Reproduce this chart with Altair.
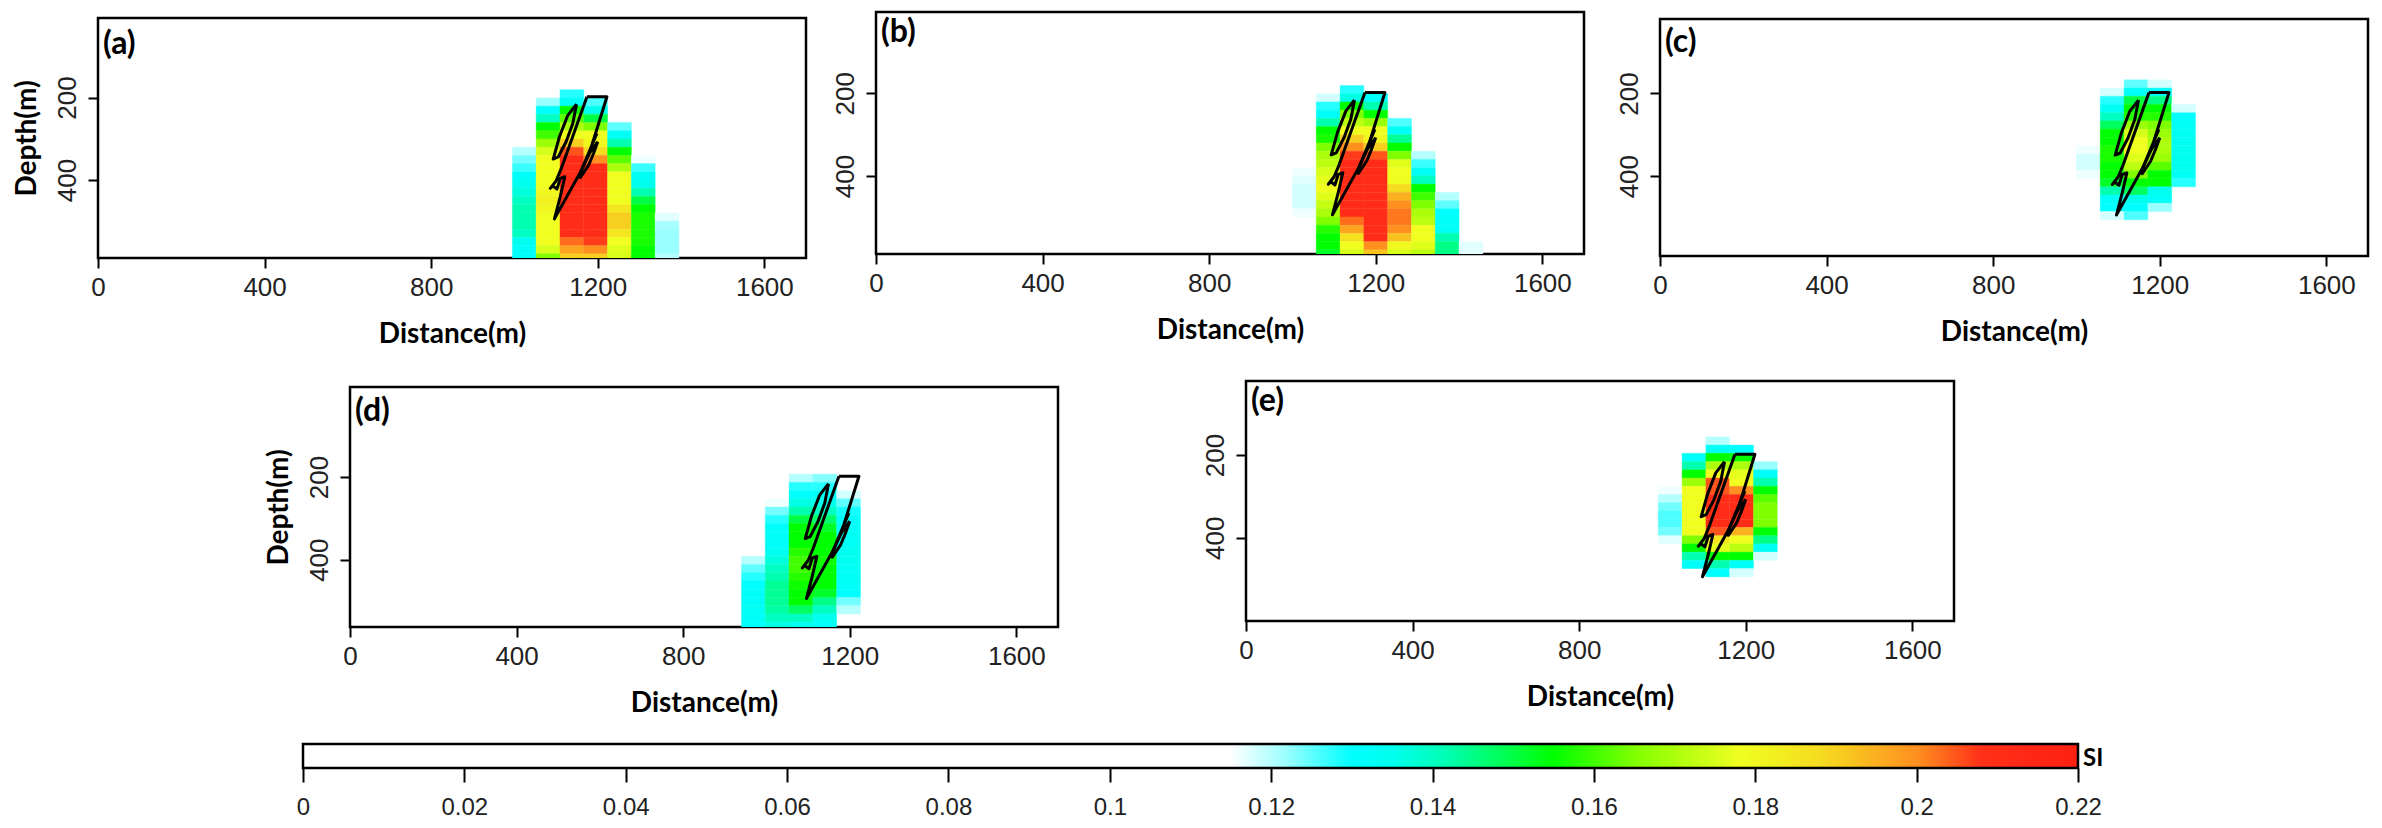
import altair as alt
import pandas as pd

# colour ramp of the SI scale
SI_STOPS = [0, 0.115, 0.122, 0.13, 0.135, 0.142, 0.155, 0.165, 0.178, 0.188, 0.2, 0.208, 0.22]
SI_COLORS = ["#ffffff", "#ffffff", "#99ffff", "#00ffff", "#00ffee", "#00ffb0", "#00ff00", "#80ff00",
             "#f0ff20", "#f5dc20", "#ff9020", "#ff3018", "#ff2010"]
SI_TICKS = [0, 0.02, 0.04, 0.06, 0.08, 0.1, 0.12, 0.14, 0.16, 0.18, 0.2, 0.22]
X_TICKS = [0, 400, 800, 1200, 1600]
Y_TICKS = [200, 400]
CELL_W = 57.14
CELL_H = 19.9

# panel a : columns left to right, values top to bottom, first row index of each
a_col0 = 995
a_row0 = 181
a_first = [7, 1, 0, 1, 4, 8, 15]
a_vals = [
    [.12, .124, .127, .132, .135, .137, .14, .142, .142, .142, .14, .134, .132, .13],
    [.122, .13, .14, .155, .16, .168, .175, .178, .178, .178, .178, .18, .182, .18, .178, .178, .178, .178, .175, .165],
    [.128, .133, .155, .162, .17, .178, .19, .205, .21, .21, .21, .21, .21, .21, .21, .21, .21, .21, .203, .197, .19],
    [.126, .135, .15, .165, .178, .18, .188, .2, .21, .21, .21, .21, .21, .21, .21, .21, .21, .207, .2, .19],
    [.125, .133, .142, .155, .162, .17, .178, .178, .178, .178, .185, .19, .19, .185, .178, .176, .175],
    [.116, .127, .133, .135, .142, .15, .155, .157, .157, .157, .157, .155, .155],
    [.117, .121, .122, .122, .122, .12],
]
# panel b
b_col0 = 1000
b_row0 = 181
b_first = [10, 1, 0, 1, 4, 8, 13, 19]
b_vals = [
    [.116, .117, .118, .118, .118, .116],
    [.118, .128, .132, .142, .155, .157, .165, .17, .172, .175, .177, .178, .176, .173, .17, .165, .158, .155, .155, .152],
    [.128, .136, .155, .165, .172, .178, .19, .2, .207, .21, .21, .21, .21, .21, .21, .21, .203, .197, .187, .178, .175],
    [.13, .142, .155, .168, .178, .18, .19, .205, .21, .21, .21, .21, .21, .21, .21, .21, .21, .21, .2, .192],
    [.126, .133, .144, .155, .165, .176, .178, .178, .188, .195, .2, .202, .202, .2, .192, .18, .175],
    [.12, .127, .133, .14, .155, .16, .165, .17, .172, .178, .178, .176, .172],
    [.12, .125, .13, .132, .133, .142, .145, .145],
    [.117, .117],
]
# panel c
c_col0 = 1000
c_row0 = 167
c_first = [8, 1, 0, 0, 3]
c_vals = [
    [.116, .118, .118, .116],
    [.118, .128, .133, .14, .148, .155, .155, .157, .157, .155, .155, .152, .142, .132, .13, .118],
    [.125, .132, .15, .155, .158, .168, .175, .178, .178, .176, .172, .165, .155, .148, .135, .13, .126],
    [.118, .132, .145, .155, .158, .165, .168, .17, .17, .168, .162, .155, .155, .135, .132, .122],
    [.118, .13, .133, .133, .134, .134, .134, .134, .133, .128],
]
# panel d
d_col0 = 940
d_row0 = 193
d_first = [10, 3, 0, 0, 2]
d_vals = [
    [.12, .125, .128, .13, .132, .132, .133, .132, .13],
    [.116, .124, .128, .131, .132, .132, .134, .137, .14, .142, .144, .144, .144, .143, .14, .136],
    [.12, .128, .13, .136, .142, .15, .155, .155, .155, .158, .16, .16, .158, .156, .155, .155, .148, .14, .134],
    [.123, .128, .132, .135, .14, .147, .152, .155, .155, .155, .156, .155, .155, .155, .152, .145, .14, .135, .132],
    [.118, .125, .129, .131, .132, .133, .133, .134, .134, .133, .133, .132, .13, .124, .12],
]
# panel e
e_col0 = 990
e_row0 = 156
e_first = [6, 2, 0, 1, 3]
e_vals = [
    [.116, .12, .124, .126, .126, .124, .117],
    [.132, .142, .155, .168, .178, .178, .178, .178, .178, .178, .165, .155, .142, .132],
    [.12, .132, .155, .17, .178, .205, .205, .21, .21, .21, .21, .205, .185, .177, .155, .142, .13],
    [.13, .155, .17, .177, .178, .2, .21, .21, .21, .21, .195, .178, .172, .155, .132, .118],
    [.122, .132, .142, .155, .162, .165, .165, .165, .155, .145, .133, .118],
]

# fault outlines, distance and depth in metres
fault_main_x = [1174, 1222, 1186, 1160, 1096, 1110, 1121, 1110, 1102, 1092, 1086, 1100, 1112, 1174]
fault_main_d = [198, 198, 315, 378, 494, 440, 392, 396, 422, 414, 420, 402, 373, 198]
fault_lens_x = [1149, 1128, 1108, 1093, 1105, 1124, 1140, 1149]
fault_lens_d = [216, 243, 295, 349, 344, 307, 263, 216]
fault_right_x = [1200, 1180, 1160, 1158, 1178, 1190, 1200]
fault_right_d = [307, 335, 378, 394, 364, 335, 307]
fault_spur_x = [1198, 1186]
fault_spur_d = [287, 315]

FONT_TICK = "Liberation Sans"
FONT_BOLD = "Lato"

fault_rows = []
for name, xs, ds in [("main", fault_main_x, fault_main_d), ("lens", fault_lens_x, fault_lens_d),
                     ("right", fault_right_x, fault_right_d), ("spur", fault_spur_x, fault_spur_d)]:
    for i, (x, d) in enumerate(zip(xs, ds)):
        fault_rows.append({"part": name, "i": i, "x": x, "d": d})
fault_df = pd.DataFrame(fault_rows)


def cells(col0, row0, first, vals):
    rows = []
    for c, (f, col) in enumerate(zip(first, vals)):
        for k, v in enumerate(col):
            rows.append({
                "x0": col0 + c * CELL_W, "x1": col0 + (c + 1) * CELL_W,
                "d0": row0 + (f + k) * CELL_H, "d1": row0 + (f + k + 1) * CELL_H, "si": v,
            })
    return pd.DataFrame(rows)


def spacer(w, h):
    return alt.Chart(pd.DataFrame({"a": [0]})).mark_point(opacity=0).encode(
        x=alt.value(0), y=alt.value(0)
    ).properties(width=w, height=h, view=alt.ViewConfig(stroke="transparent"))


def panel(label, col0, row0, first, vals, d_top, d_bot, h, lx, ly, w=708, depth_title=False):
    xs = alt.Scale(domain=[0, 1700], nice=False, zero=False)
    ys = alt.Scale(domain=[d_bot, d_top], nice=False, zero=False)
    colour = alt.Scale(domain=SI_STOPS, range=SI_COLORS, interpolate="rgb")
    rect = alt.Chart(cells(col0, row0, first, vals)).mark_rect(clip=True, strokeWidth=0.4).encode(
        x=alt.X("x0:Q", scale=xs, axis=alt.Axis(
            values=X_TICKS, title="Distance(m)", grid=False, domain=False, tickColor="black", tickWidth=2,
            tickSize=10, labelFont=FONT_TICK, labelFontSize=26, labelColor="#222222", labelPadding=6,
            titleFont=FONT_BOLD, titleFontWeight="bold", titleFontSize=28, titleColor="black", titlePadding=20,
            labelFlush=False, labelOverlap=False, format="d")),
        x2="x1:Q",
        y=alt.Y("d0:Q", scale=ys, axis=alt.Axis(
            values=Y_TICKS, title="Depth(m)" if depth_title else None, grid=False, domain=False,
            tickColor="black", tickWidth=2,
            tickSize=10, labelFont=FONT_TICK, labelFontSize=26, labelColor="#222222", labelAngle=270,
            labelPadding=8, titleFont=FONT_BOLD, titleFontWeight="bold", titleFontSize=28,
            titleColor="black", titlePadding=13, labelFlush=False, labelOverlap=False, format="d")),
        y2="d1:Q",
        fill=alt.Fill("si:Q", scale=colour, legend=None),
        stroke=alt.Stroke("si:Q", scale=colour, legend=None),
    )
    line = alt.Chart(fault_df).mark_line(color="black", strokeWidth=3, clip=True, strokeJoin="round").encode(
        x=alt.X("x:Q", scale=xs), y=alt.Y("d:Q", scale=ys), detail="part:N", order="i:Q"
    )
    text = alt.Chart(pd.DataFrame({"t": [label]})).mark_text(
        align="left", baseline="middle", font=FONT_BOLD, fontWeight="bold", fontSize=32, color="black"
    ).encode(x=alt.value(lx), y=alt.value(ly), text="t:N")
    return alt.layer(rect, line, text).properties(width=w, height=h)


def colourbar():
    offs = [s / SI_STOPS[-1] for s in SI_STOPS]
    grad = alt.Gradient(gradient="linear", x1=0, x2=1, y1=0, y2=0,
                        stops=[alt.GradientStop(offset=o, color=c) for o, c in zip(offs, SI_COLORS)])
    w = 1775
    bar = alt.Chart(pd.DataFrame({"a": [0], "b": [SI_STOPS[-1]]})).mark_rect(
        fill=grad, stroke="black", strokeWidth=2.5
    ).encode(
        x=alt.X("a:Q", scale=alt.Scale(domain=[0, SI_STOPS[-1]], nice=False, zero=False), axis=alt.Axis(
            values=SI_TICKS, title=None, grid=False, domain=False, tickColor="black", tickWidth=2, tickSize=14,
            labelFont=FONT_TICK, labelFontSize=24, labelColor="#222222", labelPadding=13,
            labelFlush=False, labelOverlap=False, format="~g")),
        x2="b:Q",
    )
    si = alt.Chart(pd.DataFrame({"t": ["SI"]})).mark_text(
        align="left", baseline="middle", font=FONT_BOLD, fontWeight="bold", fontSize=24, color="black"
    ).encode(x=alt.value(w + 5), y=alt.value(15), text="t:N")
    return alt.layer(bar, si).properties(width=w, height=24, view=alt.ViewConfig(stroke="transparent"))


pa = panel("(a)", a_col0, a_row0, a_first, a_vals, 7, 589, 240, 5, 26, depth_title=True)
pb = panel("(b)", b_col0, b_row0, b_first, b_vals, 3, 589, 242, 5, 20)
pc = panel("(c)", c_col0, c_row0, c_first, c_vals, 20, 593, 237, 5, 23)
pd_ = panel("(d)", d_col0, d_row0, d_first, d_vals, -18, 563, 240, 5, 24, depth_title=True)
pe = panel("(e)", e_col0, e_row0, e_first, e_vals, 21, 601, 240, 5, 20)

S = -30
col_a = alt.vconcat(spacer(10, 2), pa, spacing=0)
col_c = alt.vconcat(spacer(10, 3), pc, spacing=0)
row1 = alt.hconcat(col_a, spacer(50, 1), pb, spacer(56, 1), col_c, spacing=S)
col_d = alt.vconcat(spacer(10, 1), pd_, spacing=0)
row2 = alt.hconcat(spacer(193, 1), col_d, spacer(168, 1), pe, spacing=S)
row3 = alt.hconcat(spacer(203, 1), colourbar(), spacing=S)

chart = alt.vconcat(row1, spacer(10, 21), row2, spacer(10, 15), row3, spacing=0).properties(
    padding={"left": 3, "top": 0, "right": 0, "bottom": 0}, background="white"
).configure_view(stroke="black", strokeWidth=2.5)

chart.save("out.html", embed_options={"renderer": "svg", "actions": False})
